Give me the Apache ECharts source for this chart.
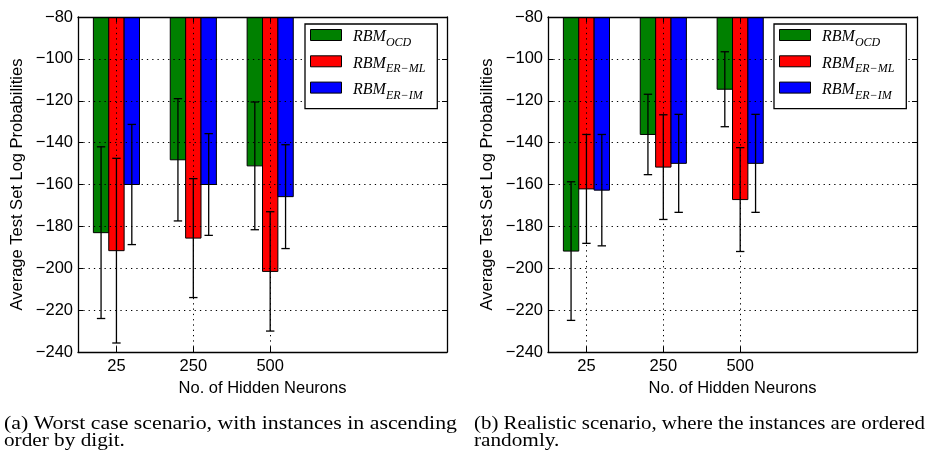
<!DOCTYPE html>
<html><head><meta charset="utf-8">
<script src="https://cdn.jsdelivr.net/npm/echarts@6/dist/echarts.min.js"></script>
<style>html,body{margin:0;padding:0;background:#fff}#c{width:927px;height:457px}</style>
</head><body><div id="c"></div>
<script>
// ---- data ----
const categories = ['25', '250', '500'];
const seriesNames = ['RBM_OCD', 'RBM_ER\u2212ML', 'RBM_ER\u2212IM'];
const seriesColors = ['#008000', '#ff0000', '#0000ff'];

// (a) worst case scenario
const worstOCD = [-183.0, -148.2, -151.1];
const worstOCDErr = [41.0, 29.2, 30.5];
const worstERML = [-191.6, -185.6, -201.5];
const worstERMLErr = [44.1, 28.4, 28.5];
const worstERIM = [-160.0, -160.0, -165.8];
const worstERIMErr = [28.7, 24.3, 24.8];

// (b) realistic scenario
const realOCD = [-191.8, -136.1, -114.5];
const realOCDErr = [33.1, 19.2, 17.9];
const realERML = [-162.1, -151.7, -167.2];
const realERMLErr = [26.0, 25.0, 24.8];
const realERIM = [-162.7, -149.9, -149.9];
const realERIMErr = [26.6, 23.4, 23.4];

const yMin = -240, yMax = -80, yStep = 20;
const xAxisTitle = 'No. of Hidden Neurons';
const yAxisTitle = 'Average Test Set Log Probabilities';
const captionA = ['(a) Worst case scenario, with instances in ascending', 'order by digit.'];
const captionB = ['(b) Realistic scenario, where the instances are ordered', 'randomly.'];

// ---- layout / style ----
const SANS = 'Liberation Sans';
const SERIF = 'Liberation Serif';
const BAR_W = 0.2;
const catIdx = categories.map((c, i) => i);

function xAx(gridIndex, main) {
  return {
    type: 'value', gridIndex: gridIndex, position: main ? 'bottom' : 'top',
    min: -0.5, max: 4.3, z: 3,
    name: main ? xAxisTitle : '', nameLocation: 'middle', nameGap: 26,
    nameTextStyle: {fontFamily: SANS, fontSize: 16.5, color: '#000'},
    axisLine: {show: true, onZero: false, lineStyle: {color: '#000', width: 1.3}},
    axisTick: {show: true, inside: true, length: 5, customValues: catIdx, lineStyle: {color: '#000', width: 1}},
    axisLabel: {show: main, customValues: catIdx, margin: 6,
      formatter: v => categories[Math.round(v)] || '',
      fontFamily: SANS, fontSize: 16.5, color: '#000'},
    splitLine: {show: main, lineStyle: {color: '#000', type: [1.3, 4], width: 1}}
  };
}
function yAx(gridIndex, main) {
  return {
    type: 'value', gridIndex: gridIndex, position: main ? 'left' : 'right',
    min: yMin, max: yMax, interval: yStep, z: 3,
    name: main ? yAxisTitle : '', nameLocation: 'middle', nameGap: 52,
    nameTextStyle: {fontFamily: SANS, fontSize: 16.5, color: '#000'},
    axisLine: {show: true, onZero: false, lineStyle: {color: '#000', width: 1.3}},
    axisTick: {show: true, inside: true, length: 5, lineStyle: {color: '#000', width: 1}},
    axisLabel: {show: main, margin: 5, formatter: v => String(v).replace('-', '\u2212'),
      fontFamily: SANS, fontSize: 16.5, color: '#000'},
    splitLine: {show: main, lineStyle: {color: '#000', type: [1.3, 4], width: 1}}
  };
}

function renderBar(slot) {
  return function (params, api) {
    const c = api.value(0) + (slot - 1) * BAR_W;
    const v = api.value(1), e = api.value(2);
    const p0 = api.coord([c - BAR_W / 2, 0]);
    const p1 = api.coord([c + BAR_W / 2, v]);
    const top = api.coord([c, v + e]);
    const bot = api.coord([c, v - e]);
    const cap = 4.2;
    const ls = {stroke: '#000', lineWidth: 1.3};
    return {type: 'group', children: [
      {type: 'rect', shape: {x: p0[0], y: p0[1], width: p1[0] - p0[0], height: p1[1] - p0[1]},
        style: {fill: api.visual('color'), stroke: '#000', lineWidth: 1}},
      {type: 'line', shape: {x1: top[0], y1: top[1], x2: bot[0], y2: bot[1]}, style: ls},
      {type: 'line', shape: {x1: top[0] - cap, y1: top[1], x2: top[0] + cap, y2: top[1]}, style: ls},
      {type: 'line', shape: {x1: bot[0] - cap, y1: bot[1], x2: bot[0] + cap, y2: bot[1]}, style: ls}
    ]};
  };
}

function makeSeries(axisIdx, sets) {
  return sets.map((s, k) => ({
    type: 'custom', name: seriesNames[k], xAxisIndex: axisIdx, yAxisIndex: axisIdx,
    clip: true, z: 2,
    itemStyle: {color: seriesColors[k]},
    dimensions: ['cat', 'value', 'err'],
    encode: {x: 0, y: 1},
    renderItem: renderBar(k),
    data: categories.map((c, i) => [i, s[0][i], s[1][i]])
  }));
}

function legendAt(left) {
  return {
    data: seriesNames, left: left, top: 24, orient: 'vertical', z: 10,
    selectedMode: false, icon: 'rect', itemWidth: 31, itemHeight: 11, itemGap: 4.3,
    padding: [3, 12, 7, 5], backgroundColor: '#fff', borderColor: '#000', borderWidth: 1.3,
    itemStyle: {borderColor: '#000', borderWidth: 1},
    formatter: name => { const p = name.split('_'); return '{m|' + p[0] + '}{s|' + p[1] + '}'; },
    textStyle: {rich: {
      m: {fontFamily: SERIF, fontStyle: 'italic', fontSize: 16, lineHeight: 16, padding: [2, 0, 0, 6.5], verticalAlign: 'top', color: '#000'},
      s: {fontFamily: SERIF, fontStyle: 'italic', fontSize: 12, lineHeight: 10, padding: [10, 0, 0, 0], verticalAlign: 'top', color: '#000'}
    }}
  };
}

// caption scaling (text in the reference is horizontally wider than the font)
const mctx = document.createElement('canvas').getContext('2d');
const CAP_FS = 18;
mctx.font = CAP_FS + 'px "' + SERIF + '"';
function fitScale(text, w) { return w / mctx.measureText(text).width; }
function captionEls(lines, x, width) {
  return [
    {type: 'text', x: x, y: 424, scaleX: fitScale(lines[0], width),
      style: {text: lines[0], font: CAP_FS + 'px "' + SERIF + '"', fill: '#000', textAlign: 'left', textVerticalAlign: 'middle', align: 'left', verticalAlign: 'middle'}},
    {type: 'text', x: x, y: 441, scaleX: 1.18,
      style: {text: lines[1], font: CAP_FS + 'px "' + SERIF + '"', fill: '#000', textAlign: 'left', textVerticalAlign: 'middle', align: 'left', verticalAlign: 'middle'}}
  ];
}

const chart = echarts.init(document.getElementById('c'), null, {renderer: 'canvas'});
chart.setOption({
  animation: false,
  backgroundColor: '#fff',
  grid: [
    {left: 78, top: 17, width: 369, height: 335},
    {left: 548, top: 17, width: 369, height: 335}
  ],
  xAxis: [xAx(0, true), xAx(0, false), xAx(1, true), xAx(1, false)],
  yAxis: [yAx(0, true), yAx(0, false), yAx(1, true), yAx(1, false)],
  legend: [legendAt(305), legendAt(774)],
  series: [
    ...makeSeries(0, [[worstOCD, worstOCDErr], [worstERML, worstERMLErr], [worstERIM, worstERIMErr]]),
    ...makeSeries(2, [[realOCD, realOCDErr], [realERML, realERMLErr], [realERIM, realERIMErr]])
  ],
  graphic: [...captionEls(captionA, 4, 453), ...captionEls(captionB, 474, 451)]
});
</script></body></html>
